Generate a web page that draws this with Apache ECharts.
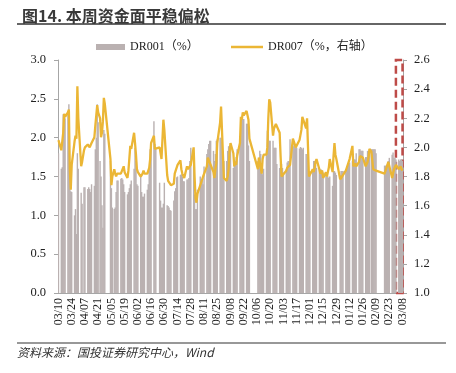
<!DOCTYPE html>
<html>
<head>
<meta charset="utf-8">
<script src="https://cdn.jsdelivr.net/npm/echarts@6/dist/echarts.min.js"></script>
<style>
html,body{margin:0;padding:0;background:#fff;}
#c{width:456px;height:373px;}
</style>
</head>
<body>
<div id="c"></div>
<script>
// x-axis tick labels (every 14 calendar days)
const tickLabels = ['03/10','03/24','04/07','04/21','05/05','05/19','06/02','06/16','06/30','07/14','07/28','08/11','08/25','09/08','09/22','10/06','10/20','11/03','11/17','12/01','12/15','12/29','01/12','01/26','02/09','02/23','03/08'];

// trading days (2023-03-10 .. 2024-03-08)
const tradeDates = [
'03/10',
'03/13','03/14','03/15','03/16','03/17',
'03/20','03/21','03/22','03/23','03/24',
'03/27','03/28','03/29','03/30','03/31',
'04/03','04/04','04/06','04/07',
'04/10','04/11','04/12','04/13','04/14',
'04/17','04/18','04/19','04/20','04/21',
'04/23','04/24','04/25','04/26','04/27','04/28',
'05/04','05/05','05/06',
'05/08','05/09','05/10','05/11','05/12',
'05/15','05/16','05/17','05/18','05/19',
'05/22','05/23','05/24','05/25','05/26',
'05/29','05/30','05/31','06/01','06/02',
'06/05','06/06','06/07','06/08','06/09',
'06/12','06/13','06/14','06/15','06/16',
'06/19','06/20','06/21',
'06/25','06/26','06/27','06/28','06/29','06/30',
'07/03','07/04','07/05','07/06','07/07',
'07/10','07/11','07/12','07/13','07/14',
'07/17','07/18','07/19','07/20','07/21',
'07/24','07/25','07/26','07/27','07/28',
'07/31','08/01','08/02','08/03','08/04',
'08/07','08/08','08/09','08/10','08/11',
'08/14','08/15','08/16','08/17','08/18',
'08/21','08/22','08/23','08/24','08/25',
'08/28','08/29','08/30','08/31','09/01',
'09/04','09/05','09/06','09/07','09/08',
'09/11','09/12','09/13','09/14','09/15',
'09/18','09/19','09/20','09/21','09/22',
'09/25','09/26','09/27','09/28',
'10/07','10/08',
'10/09','10/10','10/11','10/12','10/13',
'10/16','10/17','10/18','10/19','10/20',
'10/23','10/24','10/25','10/26','10/27',
'10/30','10/31','11/01','11/02','11/03',
'11/06','11/07','11/08','11/09','11/10',
'11/13','11/14','11/15','11/16','11/17',
'11/20','11/21','11/22','11/23','11/24',
'11/27','11/28','11/29','11/30','12/01',
'12/04','12/05','12/06','12/07','12/08',
'12/11','12/12','12/13','12/14','12/15',
'12/18','12/19','12/20','12/21','12/22',
'12/25','12/26','12/27','12/28','12/29',
'01/02','01/03','01/04','01/05',
'01/08','01/09','01/10','01/11','01/12',
'01/15','01/16','01/17','01/18','01/19',
'01/22','01/23','01/24','01/25','01/26',
'01/29','01/30','01/31','02/01','02/02',
'02/04','02/05','02/06','02/07','02/08','02/09',
'02/18','02/19','02/20','02/21','02/22','02/23',
'02/26','02/27','02/28','02/29','03/01',
'03/04','03/05','03/06','03/07','03/08'
];

// DR001 (%), left axis
const dr001 = [
1.80,
1.60,1.62,2.30,2.30,2.25,
2.34,2.43,1.60,1.31,1.30,
1.00,1.08,0.76,1.80,1.60,
1.29,1.15,1.36,1.36,
1.34,1.36,1.34,1.30,1.40,
1.38,1.85,2.00,2.43,2.20,
1.70,1.50,1.13,0.84,2.10,2.05,
1.70,1.35,1.10,
1.08,1.10,1.30,1.45,1.45,
1.47,1.48,1.46,1.40,1.30,
1.27,1.30,1.35,1.40,1.45,
1.60,1.87,1.70,1.40,1.38,
1.51,1.30,1.24,1.24,1.28,
1.33,1.40,1.60,1.85,1.92,
2.21,1.92,1.85,
1.42,1.19,1.10,1.10,1.15,1.42,
1.13,1.12,1.10,1.07,1.06,
1.19,1.31,1.35,1.49,1.50,
1.52,1.53,1.50,1.44,1.44,
1.46,1.46,1.48,1.70,1.87,
1.79,1.27,1.08,1.08,1.33,
1.50,1.45,1.45,1.40,1.63,
1.79,1.85,1.92,1.96,1.96,
1.83,1.70,1.79,1.96,1.98,
2.00,2.00,1.95,1.83,1.70,
1.70,1.83,1.89,1.89,1.85,
1.61,1.70,1.70,1.75,1.85,
2.02,2.26,2.26,2.24,2.24,
2.18,2.18,1.90,1.70,
1.70,1.70,
1.83,1.79,1.61,1.53,1.60,
1.79,2.09,2.05,1.96,1.96,
1.96,1.87,1.87,1.87,1.66,
1.61,1.66,1.66,1.61,1.55,
1.59,1.68,1.70,1.70,1.98,
1.98,1.89,1.89,1.87,1.87,
1.86,1.88,1.87,1.85,1.87,
1.79,1.79,1.75,1.57,1.57,
1.57,1.70,1.70,1.65,1.61,
1.61,1.59,1.59,1.58,1.55,
1.55,1.50,1.50,1.48,1.50,
1.38,1.57,1.57,1.55,1.52,
1.52,1.57,1.57,1.57,
1.59,1.59,1.62,1.68,1.68,
1.70,1.72,1.72,1.72,1.80,
1.85,1.85,1.83,1.83,1.83,
1.75,1.75,1.83,1.83,1.83,
1.85,1.85,1.85,1.85,1.85,1.80,
1.64,1.64,1.64,1.66,1.70,1.74,
1.78,1.81,1.74,1.74,1.72,
1.72,1.70,1.72,1.72,1.70
];

// DR007 (%), right axis
const dr007 = [
2.05,
1.98,1.99,2.10,2.23,2.21,
2.24,2.26,1.85,1.71,1.88,
2.04,2.08,2.06,2.42,2.20,
1.87,1.90,1.98,2.00,
2.02,2.02,2.00,2.01,2.03,
2.07,2.15,2.22,2.29,2.24,
2.20,2.07,2.10,2.18,2.34,2.30,
1.92,1.74,1.80,
1.85,1.82,1.80,1.82,1.83,
1.82,1.81,1.82,1.87,1.83,
1.79,1.84,1.84,2.01,1.99,
2.10,2.03,1.95,1.85,1.83,
1.80,1.80,1.82,1.84,1.82,
1.82,1.83,1.86,1.92,2.03,
2.08,1.99,1.99,
2.00,2.00,1.92,1.93,2.19,2.12,
1.81,1.77,1.78,1.78,1.74,
1.75,1.82,1.84,1.85,1.88,
1.91,1.85,1.82,1.82,1.79,
1.87,1.85,1.85,1.86,1.88,
2.00,1.80,1.65,1.62,1.68,
1.74,1.76,1.77,1.80,1.81,
1.87,1.93,1.92,1.92,1.88,
1.83,1.79,1.85,1.89,2.03,
2.17,2.28,2.27,1.95,1.79,
1.77,1.80,1.85,1.97,2.03,
1.96,1.87,1.90,1.88,1.94,
2.03,2.21,2.19,2.24,2.22,
2.25,2.25,2.19,2.06,
1.85,1.93,
1.90,1.86,1.82,1.92,1.95,
1.95,2.00,2.20,2.33,2.31,
2.08,2.13,2.12,2.16,2.16,
2.10,1.94,1.80,1.79,1.79,
1.84,1.86,1.87,1.85,1.88,
2.06,2.07,2.02,2.00,2.00,
2.05,2.05,2.12,2.21,2.20,
2.13,2.20,2.00,1.80,1.80,
1.85,1.83,1.86,1.90,1.92,
1.85,1.82,1.83,1.84,1.79,
1.83,1.80,1.83,1.86,1.92,
1.83,1.94,2.03,1.95,1.92,
1.78,1.79,1.80,1.81,
1.84,1.86,1.86,1.87,1.92,
2.01,1.87,1.88,1.89,1.87,
1.90,1.94,1.95,1.95,1.93,
1.87,1.87,1.90,1.93,1.99,
1.97,1.96,1.85,1.85,1.85,1.84,
1.82,1.84,1.86,1.88,1.90,1.90,
1.79,1.82,1.85,1.85,1.88,
1.85,1.86,1.87,1.85,1.84
];

// calendar-day categories from 2023-03-10 to 2024-03-08
const startMs = Date.UTC(2023, 2, 10);
const nDays = 365;
const calendar = [];
for (let i = 0; i < nDays; i++) {
  const d = new Date(startMs + i * 86400000);
  const mm = String(d.getUTCMonth() + 1).padStart(2, '0');
  const dd = String(d.getUTCDate()).padStart(2, '0');
  calendar.push(mm + '/' + dd);
}
const s1 = calendar.map(() => '-');
const s7 = calendar.map(() => '-');
tradeDates.forEach((t, k) => {
  const idx = calendar.indexOf(t);
  if (idx >= 0) { s1[idx] = dr001[k]; s7[idx] = dr007[k]; }
});
const isTick = (i, v) => tickLabels.indexOf(v) >= 0 && i % 14 === 0;

const serif = '"Liberation Serif", "Times New Roman", "Noto Sans CJK SC", serif';
const axisGray = '#a6a6a6';
const barColor = '#bab1b1';
const lineColor = '#ebb635';

const chart = echarts.init(document.getElementById('c'), null, {renderer: 'canvas'});
chart.setOption({
  animation: false,
  backgroundColor: '#fff',
  title: {
    text: '图14. 本周资金面平稳偏松',
    left: 17, top: 3,
    textStyle: {fontFamily: '"Noto Sans CJK SC", sans-serif', fontSize: 16, fontWeight: 'bold', color: '#3a3a3a'}
  },
  graphic: [
    {type: 'line', shape: {x1: 17, y1: 24, x2: 446, y2: 24}, style: {stroke: '#333', lineWidth: 1.5}},
    {type: 'line', shape: {x1: 17, y1: 343, x2: 446, y2: 343}, style: {stroke: '#333', lineWidth: 1.2}},
    {type: 'text', left: 17, top: 346, style: {text: '资料来源：国投证券研究中心，Wind', fontSize: 12, fontStyle: 'italic', fill: '#333', fontFamily: '"Noto Sans CJK SC", sans-serif'}}
  ],
  legend: [
    {
      left: 91, top: 36,
      itemWidth: 29, itemHeight: 6,
      textStyle: {fontFamily: serif, fontSize: 12, color: '#222'},
      data: [{name: 'DR001（%）', icon: 'rect'}]
    },
    {
      left: 226, top: 36,
      itemWidth: 32, itemHeight: 2.5,
      textStyle: {fontFamily: serif, fontSize: 12, color: '#222'},
      data: [{name: 'DR007（%，右轴）', icon: 'rect', itemStyle: {color: lineColor}}]
    }
  ],
  grid: {left: 58, right: 53, top: 60, bottom: 80, containLabel: false},
  xAxis: {
    type: 'category',
    data: calendar,
    boundaryGap: true,
    axisLine: {lineStyle: {color: axisGray, width: 1}},
    axisTick: {alignWithLabel: true, interval: isTick, length: 4, lineStyle: {color: axisGray}},
    axisLabel: {interval: isTick, rotate: 90, margin: 5, fontFamily: serif, fontSize: 12, color: '#222'},
    splitLine: {show: false}
  },
  yAxis: [
    {
      type: 'value', min: 0, max: 3, interval: 0.5, position: 'left',
      axisLine: {show: true, lineStyle: {color: axisGray}},
      axisTick: {show: true, length: 4, lineStyle: {color: axisGray}},
      axisLabel: {formatter: v => v.toFixed(1), fontFamily: serif, fontSize: 12.5, color: '#222', margin: 12},
      splitLine: {show: false}
    },
    {
      type: 'value', min: 1.0, max: 2.6, interval: 0.2, position: 'right',
      axisLine: {show: true, lineStyle: {color: axisGray}},
      axisTick: {show: true, length: 4, lineStyle: {color: axisGray}},
      axisLabel: {formatter: v => v.toFixed(1), fontFamily: serif, fontSize: 12.5, color: '#222', margin: 11},
      splitLine: {show: false}
    }
  ],
  series: [
    {
      name: 'DR001（%）', type: 'bar', yAxisIndex: 0,
      data: s1, barWidth: '150%',
      itemStyle: {color: barColor},
      markArea: {
        silent: true,
        itemStyle: {color: 'rgba(0,0,0,0)', borderColor: '#be4b48', borderWidth: 2.5, borderType: [8, 4]},
        data: [[{xAxis: '03/01'}, {xAxis: '03/08'}]]
      }
    },
    {
      name: 'DR007（%，右轴）', type: 'line', yAxisIndex: 1,
      data: s7, connectNulls: true, symbol: 'none', showSymbol: false,
      lineStyle: {color: lineColor, width: 2.3},
      itemStyle: {color: lineColor},
      z: 3
    }
  ]
});
</script>
</body>
</html>
